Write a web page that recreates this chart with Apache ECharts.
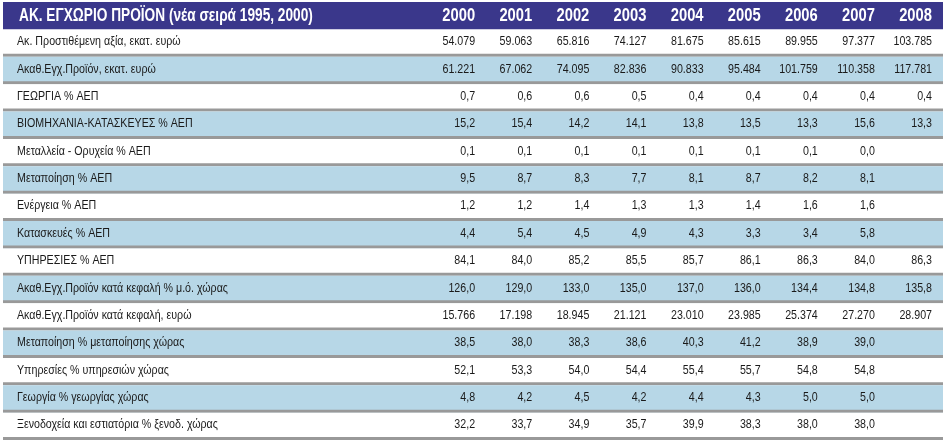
<!DOCTYPE html>
<html>
<head>
<meta charset="utf-8">
<script src="https://cdn.jsdelivr.net/npm/echarts@6/dist/echarts.min.js"></script>
<style>
html,body{margin:0;padding:0;background:#fff;}
#chart{width:947px;height:442px;}
</style>
</head>
<body>
<div id="chart"></div>
<script>
// ---- data ----
const title = 'ΑΚ. ΕΓΧΩΡΙΟ ΠΡΟΪΟΝ (νέα σειρά 1995, 2000)';
const years = ['2000','2001','2002','2003','2004','2005','2006','2007','2008'];
const rowLabels = [
  'Ακ. Προστιθέμενη αξία, εκατ. ευρώ',
  'Ακαθ.Εγχ.Προϊόν, εκατ. ευρώ',
  'ΓΕΩΡΓΙΑ % ΑΕΠ',
  'ΒΙΟΜΗΧΑΝΙΑ-ΚΑΤΑΣΚΕΥΕΣ % ΑΕΠ',
  'Μεταλλεία - Ορυχεία % ΑΕΠ',
  'Μεταποίηση % ΑΕΠ',
  'Ενέργεια % ΑΕΠ',
  'Κατασκευές % ΑΕΠ',
  'ΥΠΗΡΕΣΙΕΣ % ΑΕΠ',
  'Ακαθ.Εγχ.Προϊόν κατά κεφαλή % μ.ό. χώρας',
  'Ακαθ.Εγχ.Προϊόν κατά κεφαλή, ευρώ',
  'Μεταποίηση % μεταποίησης χώρας',
  'Υπηρεσίες % υπηρεσιών χώρας',
  'Γεωργία % γεωργίας χώρας',
  'Ξενοδοχεία και εστιατόρια % ξενοδ. χώρας'
];
const rowDecimals = [0,0,1,1,1,1,1,1,1,1,0,1,1,1,1];
const addedValue      = [54079, 59063, 65816, 74127, 81675, 85615, 89955, 97377, 103785];
const gdp             = [61221, 67062, 74095, 82836, 90833, 95484, 101759, 110358, 117781];
const agriculture     = [0.7, 0.6, 0.6, 0.5, 0.4, 0.4, 0.4, 0.4, 0.4];
const industry        = [15.2, 15.4, 14.2, 14.1, 13.8, 13.5, 13.3, 15.6, 13.3];
const mining          = [0.1, 0.1, 0.1, 0.1, 0.1, 0.1, 0.1, 0.0, null];
const manufacturing   = [9.5, 8.7, 8.3, 7.7, 8.1, 8.7, 8.2, 8.1, null];
const energy          = [1.2, 1.2, 1.4, 1.3, 1.3, 1.4, 1.6, 1.6, null];
const construction    = [4.4, 5.4, 4.5, 4.9, 4.3, 3.3, 3.4, 5.8, null];
const services        = [84.1, 84.0, 85.2, 85.5, 85.7, 86.1, 86.3, 84.0, 86.3];
const gdpPcPct        = [126.0, 129.0, 133.0, 135.0, 137.0, 136.0, 134.4, 134.8, 135.8];
const gdpPcEuro       = [15766, 17198, 18945, 21121, 23010, 23985, 25374, 27270, 28907];
const manufShare      = [38.5, 38.0, 38.3, 38.6, 40.3, 41.2, 38.9, 39.0, null];
const servicesShare   = [52.1, 53.3, 54.0, 54.4, 55.4, 55.7, 54.8, 54.8, null];
const agriShare       = [4.8, 4.2, 4.5, 4.2, 4.4, 4.3, 5.0, 5.0, null];
const hotelsShare     = [32.2, 33.7, 34.9, 35.7, 39.9, 38.3, 38.0, 38.0, null];
const rowValues = [addedValue, gdp, agriculture, industry, mining, manufacturing, energy,
  construction, services, gdpPcPct, gdpPcEuro, manufShare, servicesShare, agriShare, hotelsShare];

// ---- formatting ----
function fmt(v, dec) {
  if (v == null) return '';
  if (dec === 0) {
    return String(Math.round(v)).replace(/\B(?=(\d{3})+(?!\d))/g, '.');
  }
  return v.toFixed(dec).replace('.', ',');
}

const FONT = '"Liberation Sans", Arial, sans-serif';
const NARROW = 0.82;
const TITLE_NARROW = 0.76;
const HEADER_BG = '#3a378b';
const BAND_BG = '#b7d7e7';
const SEP = '#999999';
const TEXT = '#1a1a1a';

const rowKeys = ['__header__'].concat(rowLabels);

const bgData = rowKeys.map((k, i) => [0, i]);
const cellData = [];
years.forEach((y, c) => cellData.push([c, 0, y, 1]));
rowValues.forEach((arr, r) => {
  arr.forEach((v, c) => {
    const s = fmt(v, rowDecimals[r]);
    if (s !== '') cellData.push([c, r + 1, s, 0]);
  });
});

function narrowText(x, y, text, fill, font, align, sx) {
  return {
    type: 'text', x: x, y: y, scaleX: sx || NARROW, scaleY: 1,
    style: {x: 0, y: 0, text: text, fill: fill, font: font, textAlign: align, textVerticalAlign: 'middle'}
  };
}

const chart = echarts.init(document.getElementById('chart'), null, {renderer: 'canvas'});
const hiddenAxis = {show: false, axisLine: {show: false}, axisTick: {show: false}, axisLabel: {show: false}, splitLine: {show: false}};

chart.setOption({
  animation: false,
  backgroundColor: '#ffffff',
  grid: [
    {left: 3, right: 4, top: 2, bottom: 2},
    {left: 429, right: 4, top: 2, bottom: 2}
  ],
  xAxis: [
    Object.assign({type: 'value', min: 0, max: 1, gridIndex: 0}, hiddenAxis),
    Object.assign({type: 'category', data: years, gridIndex: 1}, hiddenAxis)
  ],
  yAxis: [
    Object.assign({type: 'category', data: rowKeys, inverse: true, gridIndex: 0}, hiddenAxis),
    Object.assign({type: 'category', data: rowKeys, inverse: true, gridIndex: 1}, hiddenAxis)
  ],
  series: [
    {
      type: 'custom',
      xAxisIndex: 0, yAxisIndex: 0,
      data: bgData,
      silent: true,
      renderItem: function (params, api) {
        const r = api.value(1);
        const cy = api.coord([0, r])[1];
        const h = api.size([0, 1])[1];
        const cs = params.coordSys;
        const top = cy - h / 2;
        const children = [];
        if (r === 0) {
          children.push({type: 'rect', shape: {x: cs.x, y: top, width: cs.width, height: h}, style: {fill: HEADER_BG}});
          children.push(narrowText(cs.x + 16, cy, title, '#ffffff', 'bold 18px ' + FONT, 'left', TITLE_NARROW));
        } else {
          const fill = (r % 2 === 0) ? BAND_BG : '#ffffff';
          children.push({type: 'rect', shape: {x: cs.x, y: top, width: cs.width, height: h}, style: {fill: fill}});
          children.push({type: 'rect', shape: {x: cs.x, y: top + h - 3, width: cs.width, height: 3}, style: {fill: SEP}});
          children.push(narrowText(cs.x + 14, cy - 1.5, rowLabels[r - 1], TEXT, '13px ' + FONT, 'left'));
        }
        return {type: 'group', children: children};
      }
    },
    {
      type: 'custom',
      xAxisIndex: 1, yAxisIndex: 1,
      data: cellData,
      silent: true,
      renderItem: function (params, api) {
        const c = api.value(0), r = api.value(1);
        const p = api.coord([c, r]);
        const sz = api.size([1, 1]);
        const isHead = api.value(3) === 1;
        const txt = cellData[params.dataIndex][2];
        return narrowText(p[0] + sz[0] / 2 - 11, isHead ? p[1] : p[1] - 1.5, txt,
          isHead ? '#ffffff' : TEXT, (isHead ? 'bold 18px ' : '13px ') + FONT, 'right');
      }
    }
  ]
});
</script>
</body>
</html>
